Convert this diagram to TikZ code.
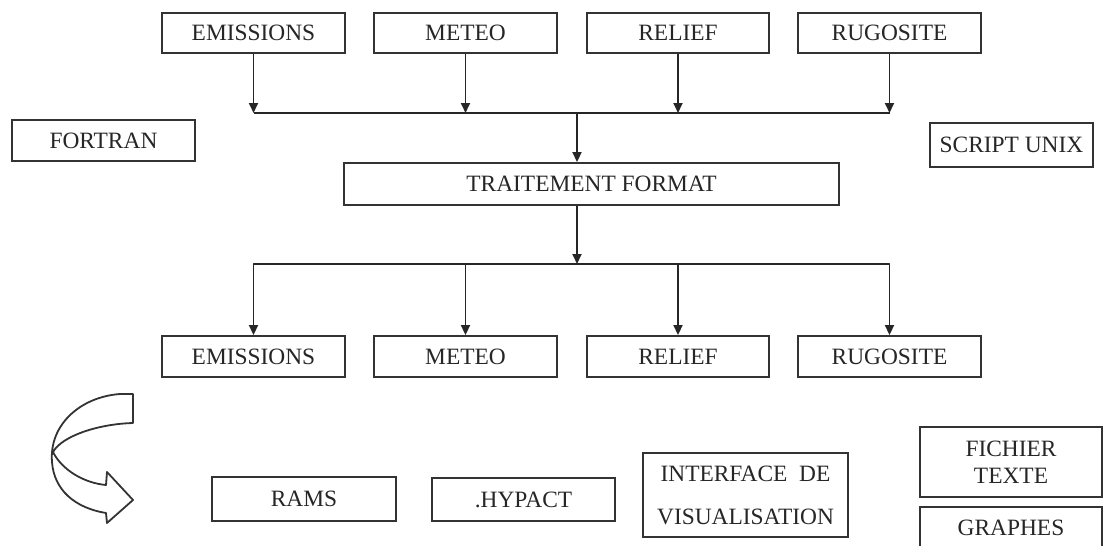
\documentclass[tikz,border=0pt]{standalone}
\usepackage{fontspec}
\setmainfont{Liberation Serif}
\usetikzlibrary{arrows.meta}
\begin{document}
\begin{tikzpicture}[x=0.5pt,y=-0.5pt,
  box/.style={draw=black!80,line width=0.95pt,fill=white,inner sep=0pt,
    font=\fontsize{11.7}{14}\selectfont,text=black!85},
  link/.style={draw=black!85,line width=0.95pt},
  arr/.style={link,-{Triangle[length=5pt,width=4.5pt]}}]
\useasboundingbox (0,0) rectangle (1104,546);
\clip (0,0) rectangle (1104,546);
% top row
\node[box,minimum width=91.5pt,minimum height=20pt] (e1) at (253.5,33) {EMISSIONS};
\node[box,minimum width=91.5pt,minimum height=20pt] (m1) at (465.5,33) {METEO};
\node[box,minimum width=91pt,minimum height=20pt] (r1) at (678,33) {RELIEF};
\node[box,minimum width=91.5pt,minimum height=20pt] (g1) at (889.5,33) {RUGOSITE};
% side labels
\node[box,minimum width=91.5pt,minimum height=20.5pt] (fortran) at (103.5,140.5) {FORTRAN};
\node[box,minimum width=81.5pt,minimum height=22pt] (unix) at (1011.5,145) {SCRIPT UNIX};
% processing
\node[box,minimum width=247.5pt,minimum height=21pt] (trait) at (591.5,184) {TRAITEMENT FORMAT};
% bottom row
\node[box,minimum width=91.5pt,minimum height=20.5pt] (e2) at (253.5,356.5) {EMISSIONS};
\node[box,minimum width=91.5pt,minimum height=20.5pt] (m2) at (465.5,356.5) {METEO};
\node[box,minimum width=91pt,minimum height=20.5pt] (r2) at (678,356.5) {RELIEF};
\node[box,minimum width=91.5pt,minimum height=20.5pt] (g2) at (889.5,356.5) {RUGOSITE};
% outputs
\node[box,minimum width=92pt,minimum height=22pt] (rams) at (304,499) {RAMS};
\node[box,minimum width=91.5pt,minimum height=21.5pt] (hypact) at (523.5,499.5) {.HYPACT};
\node[box,minimum width=102.5pt,minimum height=42pt,align=center,
  font=\fontsize{11.7}{21.5}\selectfont] (interf) at (745.5,495) {INTERFACE\ \ DE\\VISUALISATION};
\node[box,minimum width=91pt,minimum height=35pt,align=center,
  font=\fontsize{11.7}{13.5}\selectfont] (fichier) at (1011,462) {FICHIER\\TEXTE};
\node[box,minimum width=91pt,minimum height=21pt] (graphes) at (1011,528) {GRAPHES};
% junctions
\coordinate (j1) at (577,113);
\coordinate (j2) at (577,264);
% top connectors
\draw[arr] (e1.south) -- (e1 |- j1);
\draw[arr] (m1.south) -- (m1 |- j1);
\draw[arr] (r1.south) -- (r1 |- j1);
\draw[arr] (g1.south) -- (g1 |- j1);
\draw[link] (e1 |- j1) -- (g1 |- j1);
\draw[arr] (j1) -- (j1 |- trait.north);
% bottom connectors
\draw[arr] (j1 |- trait.south) -- (j2);
\draw[link,line join=round] (e2.north) ++(0,-8) -- (e2 |- j2) -- (g2 |- j2) -- ([yshift=4pt]g2.north);
\draw[arr] (e2 |- j2) -- (e2.north);
\draw[arr] (m2 |- j2) -- (m2.north);
\draw[arr] (r2 |- j2) -- (r2.north);
\draw[arr] (g2 |- j2) -- (g2.north);
% curved block arrow
\draw[draw=black!80,line width=0.9pt,fill=white,line join=round]
  (120,394) -- (133,394) -- (133,423)
  .. controls (98,424) and (62,436) .. (53,452)
  .. controls (62,470) and (84,483) .. (106,485)
  -- (107,472) -- (133,500) -- (107,523) -- (106,513)
  .. controls (75,508) and (54,490) .. (52,462)
  .. controls (49,425) and (80,397) .. (120,394) -- cycle;
\end{tikzpicture}
\end{document}
